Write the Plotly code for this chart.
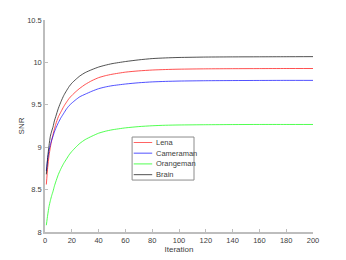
import plotly.graph_objects as go

iterations = [1, 2, 3, 4, 5, 6, 7, 8, 10, 12, 14, 16, 18, 20, 23, 26, 30, 35, 40, 45, 50, 60, 70, 80, 90, 100, 120, 140, 160, 180, 200]

lena = [8.56, 8.76, 8.90, 9.00, 9.08, 9.15, 9.21, 9.27, 9.36, 9.42, 9.48, 9.53, 9.575, 9.61, 9.655, 9.695, 9.74, 9.785, 9.82, 9.843, 9.86, 9.885, 9.90, 9.91, 9.916, 9.92, 9.924, 9.926, 9.927, 9.928, 9.928]
cameraman = [8.72, 8.86, 8.96, 9.03, 9.085, 9.13, 9.18, 9.22, 9.29, 9.35, 9.40, 9.45, 9.49, 9.52, 9.56, 9.595, 9.625, 9.66, 9.69, 9.71, 9.725, 9.745, 9.76, 9.77, 9.776, 9.78, 9.784, 9.786, 9.787, 9.788, 9.788]
orangeman = [8.08, 8.20, 8.30, 8.37, 8.43, 8.48, 8.54, 8.59, 8.68, 8.75, 8.81, 8.86, 8.91, 8.95, 9.00, 9.045, 9.09, 9.13, 9.165, 9.188, 9.205, 9.228, 9.243, 9.253, 9.259, 9.262, 9.265, 9.267, 9.268, 9.268, 9.268]
brain = [8.68, 8.88, 9.02, 9.13, 9.19, 9.24, 9.31, 9.36, 9.46, 9.54, 9.61, 9.665, 9.715, 9.755, 9.80, 9.84, 9.88, 9.915, 9.945, 9.967, 9.985, 10.01, 10.03, 10.045, 10.053, 10.058, 10.063, 10.065, 10.066, 10.067, 10.068]

names = ["Lena", "Cameraman", "Orangeman", "Brain"]
series = [lena, cameraman, orangeman, brain]
colors = ["#ff0000", "#0000ff", "#00ff00", "#000000"]

x_ticks = [0, 20, 40, 60, 80, 100, 120, 140, 160, 180, 200]
y_ticks = [8, 8.5, 9, 9.5, 10, 10.5]
y_tick_labels = ["8", "8.5", "9", "9.5", "10", "10.5"]

FONT = "Liberation Sans, Arial, sans-serif"
AX = "#bdbdbd"
TXT = "#404040"

fig = go.Figure()
for name, vals, col in zip(names, series, colors):
    fig.add_trace(go.Scatter(x=iterations, y=vals, mode="lines", name=name,
                             line=dict(color=col, width=0.8, shape="spline", smoothing=0.6),
                             opacity=0.85, showlegend=False))

# manual legend (compact, MATLAB-like)
lx0, lx1 = 0.325, 0.556
ly_top, ly_bot = 0.448, 0.245
row_h = (ly_top - ly_bot) / 4
shapes = [dict(type="rect", xref="paper", yref="paper", x0=lx0, x1=lx1, y0=ly_bot, y1=ly_top,
               line=dict(color="#8c8c8c", width=1), fillcolor="white", layer="above")]
annotations = []
for i, (name, col) in enumerate(zip(names, colors)):
    yc = ly_top - row_h * (i + 0.5)
    shapes.append(dict(type="line", xref="paper", yref="paper", x0=lx0 + 0.006, x1=lx0 + 0.075,
                       y0=yc, y1=yc, line=dict(color=col, width=0.8), opacity=0.85, layer="above"))
    annotations.append(dict(x=lx0 + 0.082, y=yc, xref="paper", yref="paper", text=name,
                            showarrow=False, xanchor="left", yanchor="middle",
                            font=dict(family=FONT, size=7.5, color=TXT)))

# page body has an 8px margin, so the figure is sized/offset to compensate
fig.update_layout(
    width=338, height=252,
    margin=dict(l=37, r=33, t=12, b=28),
    paper_bgcolor="white", plot_bgcolor="white",
    font=dict(family=FONT, size=7.5, color=TXT),
    shapes=shapes, annotations=annotations,
    showlegend=False,
)
fig.update_xaxes(range=[0, 200], tickvals=x_ticks, ticks="inside", ticklen=3, tickcolor=AX,
                 showline=True, linecolor=AX, linewidth=1.5, showgrid=False, zeroline=False,
                 automargin=False,
                 title=dict(text="Iteration", font=dict(size=8, color=TXT), standoff=2),
                 tickfont=dict(size=7.5, color=TXT))
fig.update_yaxes(range=[8, 10.5], tickvals=y_ticks, ticktext=y_tick_labels, ticks="inside",
                 ticklen=3, tickcolor=AX, showline=True, linecolor=AX, linewidth=1.5,
                 showgrid=False, zeroline=False, automargin=False,
                 title=dict(text="SNR", font=dict(size=8, color=TXT), standoff=1),
                 tickfont=dict(size=7.5, color=TXT))

fig.write_html("out.html")
